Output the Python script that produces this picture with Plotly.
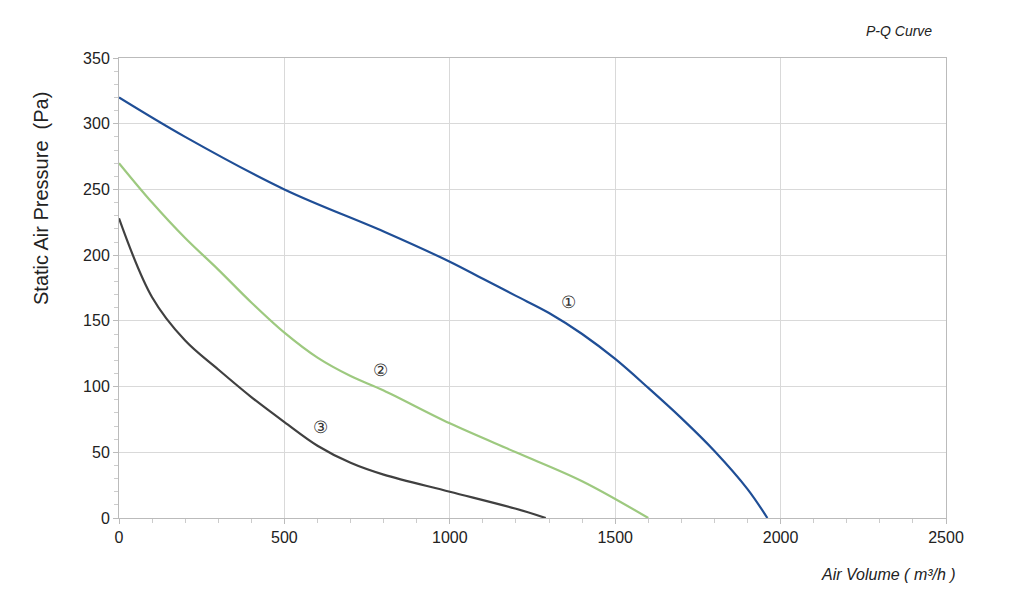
import plotly.graph_objects as go

x1 = [0, 200, 500, 800, 1000, 1100, 1200, 1300, 1400, 1500, 1600, 1700, 1800, 1900, 1960]
y1 = [320, 290, 250, 218, 195, 182, 169, 156, 140, 121, 99, 76, 51, 22, 0]
x2 = [0, 100, 200, 300, 400, 500, 600, 700, 800, 1000, 1200, 1400, 1600]
y2 = [270, 240, 213, 189, 164, 141, 122, 108, 97, 72, 50, 28, 0]
x3 = [0, 100, 200, 300, 400, 500, 600, 700, 800, 1000, 1200, 1290]
y3 = [228, 168, 135, 113, 92, 73, 55, 42, 33, 20, 7, 0]
labels = ["①", "②", "③"]
label_x = [1360, 790, 610]
label_y = [163, 111, 68]

L, R, T, B = 111, 86, 50, 98
fig = go.Figure()
for xs, ys, c in [(x1, y1, "#1f4e96"), (x2, y2, "#9dc97f"), (x3, y3, "#404040")]:
    fig.add_trace(go.Scatter(x=xs, y=ys, mode="lines", line=dict(color=c, width=2.2, shape="spline", smoothing=1), showlegend=False))
fig.add_trace(go.Scatter(x=label_x, y=label_y, mode="text", text=labels, textfont=dict(size=17, color="#333"), showlegend=False))

fig.update_layout(
    width=1024, height=608, plot_bgcolor="white", paper_bgcolor="white",
    margin=dict(l=L, r=R, t=T, b=B),
    font=dict(family="Liberation Sans, Arial", color="#222"),
    xaxis=dict(range=[0, 2500], dtick=500, showgrid=True, gridcolor="#d9d9d9", zeroline=False,
               showline=True, linecolor="#bbb", ticks="outside", tickcolor="#bbb", tickfont=dict(size=16),
               minor=dict(ticks="outside", dtick=100, tickcolor="#ccc", ticklen=4), mirror=True),
    yaxis=dict(range=[0, 350], dtick=50, showgrid=True, gridcolor="#d9d9d9", zeroline=False,
               showline=True, linecolor="#bbb", ticks="outside", tickcolor="#bbb", tickfont=dict(size=16),
               minor=dict(ticks="outside", dtick=10, tickcolor="#ccc", ticklen=4), mirror=True),
    annotations=[
        dict(text="<i>P-Q Curve</i>", x=926, y=31, showarrow=False, font=dict(size=14), xanchor="right", yanchor="middle"),
        dict(text="<i>Air Volume ( m³/h )</i>", x=950, y=574, showarrow=False, font=dict(size=16), xanchor="right", yanchor="middle"),
        dict(text="Static Air Pressure  (Pa)", x=33, y=199, showarrow=False, font=dict(size=20), textangle=-90,
             xanchor="center", yanchor="middle"),
    ],
)
PW, PH = 1024 - L - R, 608 - T - B
for a in fig.layout.annotations:
    a.x = (a.x - L) / PW
    a.y = 1 - (a.y - 58) / PH
    a.xref = "paper"; a.yref = "paper"
fig.write_html("out.html")
